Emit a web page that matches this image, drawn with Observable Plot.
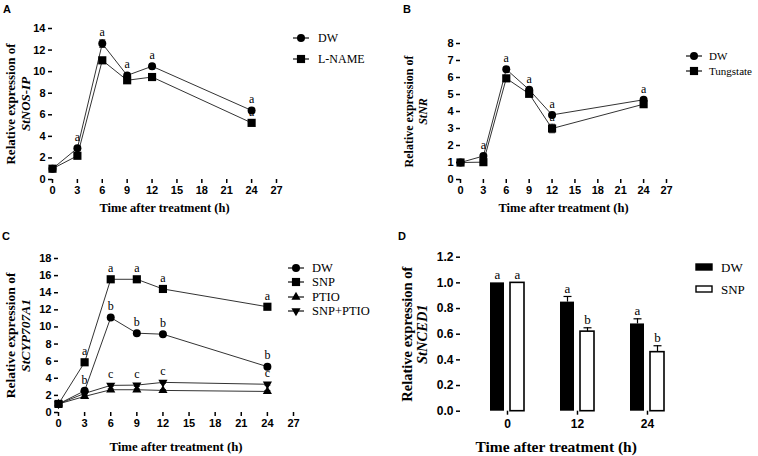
<!DOCTYPE html>
<html><head><meta charset="utf-8">
<script src="https://cdn.jsdelivr.net/npm/d3@7"></script>
<script src="https://cdn.jsdelivr.net/npm/@observablehq/plot@0.6"></script>
<style>
body{margin:0;background:#fff;}
#fig{position:relative;width:758px;height:456px;overflow:hidden;background:#fff;}
#fig > svg{position:absolute;}
</style></head><body><div id="fig"></div>
<script>
// ---------- data ----------
const times = [0, 3, 6, 9, 12, 24];
const xTicks = [0, 3, 6, 9, 12, 15, 18, 21, 24, 27];

// Panel A (StNOS-IP)
const aDW      = [1.0, 2.9, 12.6, 9.65, 10.5, 6.4];
const aDWerr   = [0.05, 0.15, 0.35, 0.2, 0.2, 0.2];
const aDWlet   = ["", "a", "a", "a", "a", "a"];
const aLN      = [1.0, 2.2, 11.05, 9.2, 9.5, 5.25];
const aLNerr   = [0.05, 0.15, 0.2, 0.2, 0.3, 0.25];
const aLNlet   = ["", "", "", "", "a", "a"];
const aYTicks  = [0, 2, 4, 6, 8, 10, 12, 14];

// Panel B (StNR)
const bDW      = [1.0, 1.38, 6.48, 5.28, 3.8, 4.69];
const bDWerr   = [0.05, 0.1, 0.12, 0.1, 0.15, 0.1];
const bDWlet   = ["", "a", "a", "a", "a", "a"];
const bTU      = [1.0, 1.02, 5.95, 5.04, 3.0, 4.43];
const bTUerr   = [0.05, 0.05, 0.1, 0.1, 0.25, 0.1];
const bTUlet   = ["", "", "", "", "a", ""];
const bYTicks  = [0, 1, 2, 3, 4, 5, 6, 7, 8];

// Panel C (StCYP707A1)
const cDW      = [1.0, 2.54, 11.1, 9.27, 9.15, 5.36];
const cDWerr   = [0.05, 0.15, 0.2, 0.15, 0.15, 0.15];
const cDWlet   = ["", "b", "b", "b", "b", "b"];
const cSNP     = [1.0, 5.87, 15.57, 15.57, 14.44, 12.36];
const cSNPerr  = [0.05, 0.2, 0.2, 0.2, 0.2, 0.2];
const cSNPlet  = ["", "a", "a", "a", "a", "a"];
const cPT      = [1.0, 1.88, 2.66, 2.66, 2.58, 2.46];
const cPTerr   = [0.05, 0.1, 0.1, 0.1, 0.1, 0.1];
const cSP      = [1.0, 2.23, 3.17, 3.2, 3.52, 3.3];
const cSPerr   = [0.05, 0.1, 0.1, 0.15, 0.1, 0.1];
const cSPlet   = ["", "", "c", "c", "c", "c"];
const cYTicks  = [0, 2, 4, 6, 8, 10, 12, 14, 16, 18];

// Panel D (StNCED1)
const dTimes   = ["0", "12", "24"];
const dDW      = [1.0, 0.85, 0.68];
const dDWerr   = [0, 0.044, 0.04];
const dDWlet   = ["a", "a", "a"];
const dSNP     = [1.0, 0.62, 0.46];
const dSNPerr  = [0, 0.03, 0.05];
const dSNPlet  = ["a", "b", "b"];
const dYTicks  = [0, 0.2, 0.4, 0.6, 0.8, 1.0, 1.2];

const xTitle = "Time after treatment (h)";
const yTitle = "Relative expression of";

// ---------- helpers ----------
const serif = "'Liberation Serif','Times New Roman',Times,serif";
const sans = "'Liberation Sans',Arial,Helvetica,sans-serif";
const cap = {draw(ctx, size) { const w = Math.sqrt(size / Math.PI); ctx.moveTo(-w, 0); ctx.lineTo(w, 0); }};
const triDown = {draw(ctx, size) {
  const y = -Math.sqrt(size / (Math.sqrt(3) * 3));
  ctx.moveTo(0, -y * 2); ctx.lineTo(-Math.sqrt(3) * y, y); ctx.lineTo(Math.sqrt(3) * y, y); ctx.closePath();
}};
function rows(vals, errs, lets) {
  return times.map((t, i) => ({t, v: vals[i], e: errs[i], l: lets ? lets[i] : ""}));
}
const fig = document.getElementById("fig");
function place(svg, left, top) { svg.style.left = left + "px"; svg.style.top = top + "px"; svg.style.maxWidth = "none"; svg.style.background = "transparent"; fig.appendChild(svg); }

function yTitles(dx, gene, fs) {
  return [
    Plot.text([yTitle], {frameAnchor: "left", rotate: -90, textAnchor: "middle", lineAnchor: "middle", dx: dx[0], fontFamily: serif, fontWeight: "bold", fontSize: fs, fill: "black"}),
    Plot.text([gene], {frameAnchor: "left", rotate: -90, textAnchor: "middle", lineAnchor: "middle", dx: dx[1], fontFamily: serif, fontWeight: "bold", fontStyle: "italic", fontSize: fs, fill: "black"})
  ];
}

function linePanel(o) {
  const marks = [];
  for (const s of o.series) marks.push(Plot.line(s.rows, {x: "t", y: "v", stroke: "#333", strokeWidth: 1}));
  for (const s of o.series) {
    marks.push(Plot.ruleX(s.rows, {x: "t", y1: d => d.v - d.e, y2: d => d.v + d.e, stroke: "#222", strokeWidth: 1}));
    marks.push(Plot.dot(s.rows, {x: "t", y: d => d.v + d.e, symbol: cap, r: 3, fill: "none", stroke: "#222", strokeWidth: 1}));
    marks.push(Plot.dot(s.rows, {x: "t", y: d => d.v - d.e, symbol: cap, r: 3, fill: "none", stroke: "#222", strokeWidth: 1}));
  }
  for (const s of o.series) marks.push(Plot.text(s.rows.filter(d => d.l), {x: "t", y: "v", text: "l", dy: -11, fontFamily: serif, fontSize: 12, fill: "black"}));
  for (const s of o.series) marks.push(Plot.dot(s.rows, {x: "t", y: "v", symbol: s.symbol, r: s.r, fill: "black", stroke: "none"}));
  marks.push(Plot.axisX({ticks: xTicks, tickSize: 4, tickPadding: 3, line: true, strokeWidth: 1.5, label: null, fontFamily: sans, fontWeight: "bold", fontSize: o.tickFont}));
  marks.push(Plot.axisY({ticks: o.yTicks, tickSize: 4, tickPadding: 3, line: true, strokeWidth: 1.5, label: null, fontFamily: sans, fontWeight: "bold", fontSize: o.tickFont}));
  marks.push(Plot.text([xTitle], {frameAnchor: "bottom", textAnchor: "middle", lineAnchor: "middle", dy: o.xTitleDy, fontFamily: serif, fontWeight: "bold", fontSize: o.xTitleFont, fill: "black"}));
  marks.push(...yTitles(o.yDx, o.gene, o.yFont));
  const svg = Plot.plot({
    width: o.width, height: o.height,
    marginLeft: o.m[0], marginRight: o.m[1], marginTop: o.m[2], marginBottom: o.m[3],
    style: {color: "black", background: "transparent"},
    x: {domain: [0, 27]}, y: {domain: [0, o.yMax]},
    marks
  });
  place(svg, o.left, o.top);
}

// Panel A
linePanel({left: 0, top: 0, width: 290, height: 225, m: [52, 14, 28, 46], yMax: 14, yTicks: aYTicks,
  series: [
    {rows: rows(aDW, aDWerr, aDWlet), symbol: "circle", r: 4},
    {rows: rows(aLN, aLNerr, aLNlet), symbol: "square", r: 4.6}
  ],
  gene: "StNOS-IP", yDx: [-42, -27], yFont: 13, tickFont: 11, xTitleDy: 28, xTitleFont: 12.5});

// Panel B
linePanel({left: 380, top: 0, width: 300, height: 225, m: [80, 14, 43, 46], yMax: 8, yTicks: bYTicks,
  series: [
    {rows: rows(bDW, bDWerr, bDWlet), symbol: "circle", r: 4},
    {rows: rows(bTU, bTUerr, bTUlet), symbol: "square", r: 4.6}
  ],
  gene: "StNR", yDx: [-51, -37], yFont: 12, tickFont: 11, xTitleDy: 28, xTitleFont: 12.5});

// Panel C
linePanel({left: 0, top: 225, width: 300, height: 231, m: [58, 7, 33, 44], yMax: 18, yTicks: cYTicks,
  series: [
    {rows: rows(cDW, cDWerr, cDWlet), symbol: "circle", r: 4},
    {rows: rows(cSNP, cSNPerr, cSNPlet), symbol: "square", r: 4.6},
    {rows: rows(cPT, cPTerr, null), symbol: "triangle", r: 3.4},
    {rows: rows(cSP, cSPerr, cSPlet), symbol: triDown, r: 3.4}
  ],
  gene: "StCYP707A1", yDx: [-48, -33], yFont: 13.5, tickFont: 11, xTitleDy: 34, xTitleFont: 12.8});

// Panel D (bars)
{
  const dwRows = dTimes.map((t, i) => ({t, v: dDW[i], e: dDWerr[i], l: dDWlet[i]}));
  const snpRows = dTimes.map((t, i) => ({t, v: dSNP[i], e: dSNPerr[i], l: dSNPlet[i]}));
  const marks = [
    Plot.barY(dwRows, {x: "t", y: "v", fill: "black", insetLeft: 0, insetRight: 20}),
    Plot.barY(snpRows, {x: "t", y: "v", fill: "white", stroke: "black", strokeWidth: 1.6, insetLeft: 20, insetRight: 0})
  ];
  for (const [rs, dx] of [[dwRows, -10], [snpRows, 10]]) {
    const er = rs.filter(d => d.e > 0);
    marks.push(Plot.ruleX(er, {x: "t", y1: "v", y2: d => d.v + d.e, dx, stroke: "black", strokeWidth: 1.2}));
    marks.push(Plot.dot(er, {x: "t", y: d => d.v + d.e, dx, symbol: cap, r: 4, fill: "none", stroke: "black", strokeWidth: 1.2}));
    marks.push(Plot.text(rs, {x: "t", y: d => d.v + d.e, text: "l", dx, dy: -8, fontFamily: serif, fontSize: 13, fill: "black"}));
  }
  marks.push(Plot.axisX({tickSize: 4, tickPadding: 4, line: true, strokeWidth: 1.5, label: null, fontFamily: sans, fontWeight: "bold", fontSize: 12}));
  marks.push(Plot.axisY({ticks: dYTicks, tickFormat: d3.format(".1f"), tickSize: 4, tickPadding: 3, line: true, strokeWidth: 1.5, label: null, fontFamily: sans, fontWeight: "bold", fontSize: 12}));
  marks.push(Plot.text([xTitle], {frameAnchor: "bottom", textAnchor: "middle", lineAnchor: "middle", dy: 36, dx: -21, fontFamily: serif, fontWeight: "bold", fontSize: 15.5, fill: "black"}));
  marks.push(...yTitles([-53, -38], "StNCED1", 14.5));
  const svg = Plot.plot({
    width: 310, height: 231, marginLeft: 70, marginRight: 6.6, marginTop: 31.7, marginBottom: 45.3,
    style: {color: "black", background: "transparent"},
    x: {type: "band", domain: dTimes, paddingInner: 0.514, paddingOuter: 0.424, align: 0.5},
    y: {domain: [0, 1.2]},
    marks
  });
  place(svg, 390, 225);
}

// ---------- overlay: panel letters and legends ----------
const legendA = [{name: "DW", sym: d3.symbolCircle, r: 4}, {name: "L-NAME", sym: d3.symbolSquare, r: 4.6}];
const legendB = [{name: "DW", sym: d3.symbolCircle, r: 4}, {name: "Tungstate", sym: d3.symbolSquare, r: 4.6}];
const legendC = [{name: "DW", sym: d3.symbolCircle, r: 4}, {name: "SNP", sym: d3.symbolSquare, r: 4.6},
                 {name: "PTIO", sym: d3.symbolTriangle, r: 3.4}, {name: "SNP+PTIO", sym: triDown, r: 3.4}];
const legendD = [{name: "DW", fill: "black"}, {name: "SNP", fill: "white"}];
const panelLetters = ["A", "B", "C", "D"];

const ov = d3.select(fig).append("svg").attr("width", 758).attr("height", 456)
  .style("left", "0px").style("top", "0px").style("pointer-events", "none");
[[3, 13], [403, 13], [2, 240], [398, 240]].forEach(([x, y], i) =>
  ov.append("text").attr("x", x).attr("y", y).attr("font-family", sans).attr("font-weight", "bold")
    .attr("font-size", 11).text(panelLetters[i]));

function lineLegend(items, cx, ys, tx, fs) {
  items.forEach((it, i) => {
    const y = ys[i];
    ov.append("line").attr("x1", cx - 8).attr("x2", cx + 8).attr("y1", y).attr("y2", y).attr("stroke", "#222").attr("stroke-width", 1.3);
    ov.append("path").attr("transform", `translate(${cx},${y})`).attr("d", d3.symbol(it.sym, Math.PI * it.r * it.r)()).attr("fill", "black");
    ov.append("text").attr("x", tx).attr("y", y).attr("dy", "0.35em").attr("font-family", serif).attr("font-size", fs).text(it.name);
  });
}
lineLegend(legendA, 301, [38, 59], 318, 12);
lineLegend(legendB, 694, [56, 71], 709, 11);
lineLegend(legendC, 296, [268, 282, 297, 311], 312, 12.5);
legendD.forEach((it, i) => {
  const y = [267, 289][i];
  ov.append("rect").attr("x", 696).attr("y", y - 3).attr("width", 16).attr("height", 6).attr("fill", it.fill).attr("stroke", "black").attr("stroke-width", 1.4);
  ov.append("text").attr("x", 721).attr("y", y).attr("dy", "0.35em").attr("font-family", serif).attr("font-size", 13).text(it.name);
});
</script></body></html>
